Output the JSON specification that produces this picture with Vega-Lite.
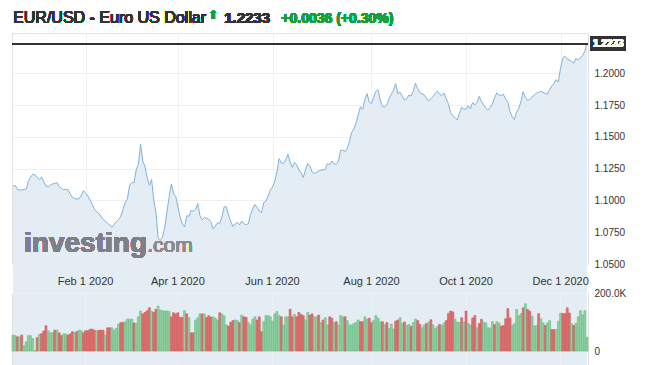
{
  "$schema": "https://vega.github.io/schema/vega-lite/v6.json",
  "padding": {"left": 10, "top": 8, "right": 5, "bottom": 0},
  "background": "white",
  "config": {
    "font": "Liberation Sans",
    "view": {"stroke": "#e2e2e2"},
    "axis": {"labelFont": "Liberation Sans", "labelColor": "#333333", "gridColor": "#f0f0f0", "ticks": false, "domain": false, "title": null, "labelFlush": false, "labelOverlap": false}
  },
  "data": {"values": [
    {"d":"2019-12-17","c":1.1114,"v":55000,"u":"up"},
    {"d":"2019-12-18","c":1.1118,"v":53000,"u":"up"},
    {"d":"2019-12-19","c":1.1085,"v":49000,"u":"down"},
    {"d":"2019-12-20","c":1.1082,"v":49000,"u":"up"},
    {"d":"2019-12-23","c":1.1083,"v":55000,"u":"down"},
    {"d":"2019-12-24","c":1.1086,"v":18000,"u":"up"},
    {"d":"2019-12-26","c":1.1090,"v":32000,"u":"up"},
    {"d":"2019-12-27","c":1.1155,"v":53000,"u":"up"},
    {"d":"2019-12-30","c":1.1185,"v":53000,"u":"up"},
    {"d":"2019-12-31","c":1.1206,"v":43000,"u":"up"},
    {"d":"2020-01-01","c":1.1200,"v":0,"u":"up"},
    {"d":"2020-01-02","c":1.1180,"v":46000,"u":"down"},
    {"d":"2020-01-03","c":1.1165,"v":57000,"u":"up"},
    {"d":"2020-01-06","c":1.1183,"v":60000,"u":"down"},
    {"d":"2020-01-07","c":1.1145,"v":69000,"u":"down"},
    {"d":"2020-01-08","c":1.1112,"v":87000,"u":"down"},
    {"d":"2020-01-09","c":1.1108,"v":69000,"u":"up"},
    {"d":"2020-01-10","c":1.1122,"v":63000,"u":"up"},
    {"d":"2020-01-13","c":1.1130,"v":63000,"u":"up"},
    {"d":"2020-01-14","c":1.1134,"v":72000,"u":"down"},
    {"d":"2020-01-15","c":1.1140,"v":72000,"u":"up"},
    {"d":"2020-01-16","c":1.1110,"v":63000,"u":"down"},
    {"d":"2020-01-17","c":1.1095,"v":53000,"u":"down"},
    {"d":"2020-01-20","c":1.1085,"v":59000,"u":"up"},
    {"d":"2020-01-21","c":1.1088,"v":59000,"u":"up"},
    {"d":"2020-01-22","c":1.1084,"v":55000,"u":"down"},
    {"d":"2020-01-23","c":1.1050,"v":59000,"u":"down"},
    {"d":"2020-01-24","c":1.1025,"v":67000,"u":"down"},
    {"d":"2020-01-27","c":1.1016,"v":64000,"u":"up"},
    {"d":"2020-01-28","c":1.1010,"v":67000,"u":"down"},
    {"d":"2020-01-29","c":1.1013,"v":72000,"u":"up"},
    {"d":"2020-01-30","c":1.1040,"v":70000,"u":"up"},
    {"d":"2020-01-31","c":1.1078,"v":63000,"u":"down"},
    {"d":"2020-02-03","c":1.1055,"v":70000,"u":"down"},
    {"d":"2020-02-04","c":1.1035,"v":70000,"u":"down"},
    {"d":"2020-02-05","c":1.1003,"v":75000,"u":"down"},
    {"d":"2020-02-06","c":1.0970,"v":76000,"u":"down"},
    {"d":"2020-02-07","c":1.0930,"v":72000,"u":"down"},
    {"d":"2020-02-10","c":1.0912,"v":70000,"u":"up"},
    {"d":"2020-02-11","c":1.0895,"v":72000,"u":"down"},
    {"d":"2020-02-12","c":1.0875,"v":72000,"u":"down"},
    {"d":"2020-02-13","c":1.0850,"v":72000,"u":"down"},
    {"d":"2020-02-14","c":1.0835,"v":55000,"u":"up"},
    {"d":"2020-02-17","c":1.0820,"v":80000,"u":"down"},
    {"d":"2020-02-18","c":1.0806,"v":80000,"u":"down"},
    {"d":"2020-02-19","c":1.0790,"v":80000,"u":"up"},
    {"d":"2020-02-20","c":1.0812,"v":72000,"u":"up"},
    {"d":"2020-02-21","c":1.0835,"v":78000,"u":"up"},
    {"d":"2020-02-24","c":1.0850,"v":93000,"u":"up"},
    {"d":"2020-02-25","c":1.0875,"v":98000,"u":"down"},
    {"d":"2020-02-26","c":1.0930,"v":98000,"u":"down"},
    {"d":"2020-02-27","c":1.0985,"v":101000,"u":"up"},
    {"d":"2020-02-28","c":1.1012,"v":110000,"u":"up"},
    {"d":"2020-03-02","c":1.1120,"v":110000,"u":"up"},
    {"d":"2020-03-03","c":1.1140,"v":110000,"u":"up"},
    {"d":"2020-03-04","c":1.1140,"v":97000,"u":"down"},
    {"d":"2020-03-05","c":1.1240,"v":95000,"u":"up"},
    {"d":"2020-03-06","c":1.1288,"v":118000,"u":"up"},
    {"d":"2020-03-09","c":1.1442,"v":138000,"u":"up"},
    {"d":"2020-03-10","c":1.1310,"v":128000,"u":"down"},
    {"d":"2020-03-11","c":1.1265,"v":133000,"u":"down"},
    {"d":"2020-03-12","c":1.1180,"v":139000,"u":"down"},
    {"d":"2020-03-13","c":1.1120,"v":149000,"u":"down"},
    {"d":"2020-03-16","c":1.1165,"v":138000,"u":"up"},
    {"d":"2020-03-17","c":1.1000,"v":133000,"u":"down"},
    {"d":"2020-03-18","c":1.0905,"v":144000,"u":"down"},
    {"d":"2020-03-19","c":1.0700,"v":155000,"u":"up"},
    {"d":"2020-03-20","c":1.0686,"v":141000,"u":"up"},
    {"d":"2020-03-23","c":1.0715,"v":139000,"u":"up"},
    {"d":"2020-03-24","c":1.0790,"v":138000,"u":"up"},
    {"d":"2020-03-25","c":1.0910,"v":138000,"u":"up"},
    {"d":"2020-03-26","c":1.1030,"v":136000,"u":"up"},
    {"d":"2020-03-27","c":1.1130,"v":118000,"u":"down"},
    {"d":"2020-03-30","c":1.1054,"v":132000,"u":"down"},
    {"d":"2020-03-31","c":1.1030,"v":128000,"u":"down"},
    {"d":"2020-04-01","c":1.0945,"v":132000,"u":"down"},
    {"d":"2020-04-02","c":1.0870,"v":116000,"u":"down"},
    {"d":"2020-04-03","c":1.0815,"v":116000,"u":"down"},
    {"d":"2020-04-06","c":1.0793,"v":139000,"u":"up"},
    {"d":"2020-04-07","c":1.0880,"v":128000,"u":"down"},
    {"d":"2020-04-08","c":1.0875,"v":115000,"u":"up"},
    {"d":"2020-04-09","c":1.0923,"v":63000,"u":"down"},
    {"d":"2020-04-10","c":1.0915,"v":63000,"u":"down"},
    {"d":"2020-04-13","c":1.0930,"v":107000,"u":"up"},
    {"d":"2020-04-14","c":1.0975,"v":115000,"u":"up"},
    {"d":"2020-04-15","c":1.0880,"v":128000,"u":"up"},
    {"d":"2020-04-16","c":1.0848,"v":128000,"u":"down"},
    {"d":"2020-04-17","c":1.0865,"v":128000,"u":"up"},
    {"d":"2020-04-20","c":1.0860,"v":115000,"u":"down"},
    {"d":"2020-04-21","c":1.0852,"v":122000,"u":"down"},
    {"d":"2020-04-22","c":1.0830,"v":117000,"u":"down"},
    {"d":"2020-04-23","c":1.0775,"v":118000,"u":"up"},
    {"d":"2020-04-24","c":1.0800,"v":113000,"u":"up"},
    {"d":"2020-04-27","c":1.0824,"v":107000,"u":"up"},
    {"d":"2020-04-28","c":1.0820,"v":132000,"u":"down"},
    {"d":"2020-04-29","c":1.0870,"v":128000,"u":"up"},
    {"d":"2020-04-30","c":1.0950,"v":121000,"u":"up"},
    {"d":"2020-05-01","c":1.0950,"v":90000,"u":"up"},
    {"d":"2020-05-04","c":1.0884,"v":86000,"u":"down"},
    {"d":"2020-05-05","c":1.0835,"v":99000,"u":"down"},
    {"d":"2020-05-06","c":1.0795,"v":105000,"u":"down"},
    {"d":"2020-05-07","c":1.0815,"v":107000,"u":"up"},
    {"d":"2020-05-08","c":1.0828,"v":105000,"u":"up"},
    {"d":"2020-05-11","c":1.0808,"v":98000,"u":"down"},
    {"d":"2020-05-12","c":1.0838,"v":124000,"u":"up"},
    {"d":"2020-05-13","c":1.0818,"v":118000,"u":"down"},
    {"d":"2020-05-14","c":1.0808,"v":116000,"u":"down"},
    {"d":"2020-05-15","c":1.0818,"v":98000,"u":"up"},
    {"d":"2020-05-18","c":1.0890,"v":90000,"u":"up"},
    {"d":"2020-05-19","c":1.0935,"v":110000,"u":"up"},
    {"d":"2020-05-20","c":1.0968,"v":118000,"u":"up"},
    {"d":"2020-05-21","c":1.0945,"v":107000,"u":"down"},
    {"d":"2020-05-22","c":1.0915,"v":118000,"u":"down"},
    {"d":"2020-05-25","c":1.0905,"v":67000,"u":"down"},
    {"d":"2020-05-26","c":1.0982,"v":101000,"u":"up"},
    {"d":"2020-05-27","c":1.0995,"v":122000,"u":"up"},
    {"d":"2020-05-28","c":1.1035,"v":122000,"u":"up"},
    {"d":"2020-05-29","c":1.1082,"v":118000,"u":"up"},
    {"d":"2020-06-01","c":1.1105,"v":103000,"u":"up"},
    {"d":"2020-06-02","c":1.1150,"v":128000,"u":"up"},
    {"d":"2020-06-03","c":1.1225,"v":136000,"u":"up"},
    {"d":"2020-06-04","c":1.1329,"v":122000,"u":"up"},
    {"d":"2020-06-05","c":1.1295,"v":118000,"u":"down"},
    {"d":"2020-06-08","c":1.1292,"v":90000,"u":"up"},
    {"d":"2020-06-09","c":1.1320,"v":118000,"u":"up"},
    {"d":"2020-06-10","c":1.1363,"v":118000,"u":"up"},
    {"d":"2020-06-11","c":1.1303,"v":144000,"u":"down"},
    {"d":"2020-06-12","c":1.1260,"v":118000,"u":"down"},
    {"d":"2020-06-15","c":1.1300,"v":126000,"u":"up"},
    {"d":"2020-06-16","c":1.1280,"v":118000,"u":"down"},
    {"d":"2020-06-17","c":1.1240,"v":133000,"u":"down"},
    {"d":"2020-06-18","c":1.1217,"v":126000,"u":"down"},
    {"d":"2020-06-19","c":1.1180,"v":122000,"u":"down"},
    {"d":"2020-06-22","c":1.1240,"v":107000,"u":"up"},
    {"d":"2020-06-23","c":1.1290,"v":133000,"u":"up"},
    {"d":"2020-06-24","c":1.1270,"v":124000,"u":"down"},
    {"d":"2020-06-25","c":1.1225,"v":128000,"u":"down"},
    {"d":"2020-06-26","c":1.1212,"v":118000,"u":"up"},
    {"d":"2020-06-29","c":1.1222,"v":118000,"u":"up"},
    {"d":"2020-06-30","c":1.1232,"v":124000,"u":"down"},
    {"d":"2020-07-01","c":1.1238,"v":98000,"u":"up"},
    {"d":"2020-07-02","c":1.1240,"v":107000,"u":"down"},
    {"d":"2020-07-03","c":1.1245,"v":115000,"u":"up"},
    {"d":"2020-07-06","c":1.1290,"v":90000,"u":"up"},
    {"d":"2020-07-07","c":1.1280,"v":118000,"u":"down"},
    {"d":"2020-07-08","c":1.1310,"v":113000,"u":"down"},
    {"d":"2020-07-09","c":1.1290,"v":98000,"u":"up"},
    {"d":"2020-07-10","c":1.1285,"v":101000,"u":"down"},
    {"d":"2020-07-13","c":1.1310,"v":90000,"u":"up"},
    {"d":"2020-07-14","c":1.1395,"v":122000,"u":"up"},
    {"d":"2020-07-15","c":1.1395,"v":118000,"u":"up"},
    {"d":"2020-07-16","c":1.1385,"v":118000,"u":"down"},
    {"d":"2020-07-17","c":1.1410,"v":105000,"u":"up"},
    {"d":"2020-07-20","c":1.1465,"v":90000,"u":"up"},
    {"d":"2020-07-21","c":1.1535,"v":90000,"u":"up"},
    {"d":"2020-07-22","c":1.1565,"v":95000,"u":"up"},
    {"d":"2020-07-23","c":1.1610,"v":99000,"u":"up"},
    {"d":"2020-07-24","c":1.1675,"v":107000,"u":"up"},
    {"d":"2020-07-27","c":1.1737,"v":101000,"u":"down"},
    {"d":"2020-07-28","c":1.1716,"v":101000,"u":"down"},
    {"d":"2020-07-29","c":1.1795,"v":118000,"u":"up"},
    {"d":"2020-07-30","c":1.1840,"v":110000,"u":"up"},
    {"d":"2020-07-31","c":1.1775,"v":113000,"u":"down"},
    {"d":"2020-08-03","c":1.1762,"v":98000,"u":"down"},
    {"d":"2020-08-04","c":1.1810,"v":105000,"u":"up"},
    {"d":"2020-08-05","c":1.1858,"v":122000,"u":"up"},
    {"d":"2020-08-06","c":1.1870,"v":113000,"u":"up"},
    {"d":"2020-08-07","c":1.1790,"v":101000,"u":"up"},
    {"d":"2020-08-10","c":1.1740,"v":101000,"u":"down"},
    {"d":"2020-08-11","c":1.1735,"v":90000,"u":"up"},
    {"d":"2020-08-12","c":1.1750,"v":98000,"u":"down"},
    {"d":"2020-08-13","c":1.1800,"v":78000,"u":"up"},
    {"d":"2020-08-14","c":1.1835,"v":93000,"u":"up"},
    {"d":"2020-08-17","c":1.1866,"v":76000,"u":"up"},
    {"d":"2020-08-18","c":1.1920,"v":103000,"u":"down"},
    {"d":"2020-08-19","c":1.1840,"v":107000,"u":"down"},
    {"d":"2020-08-20","c":1.1850,"v":115000,"u":"up"},
    {"d":"2020-08-21","c":1.1820,"v":95000,"u":"up"},
    {"d":"2020-08-24","c":1.1790,"v":100000,"u":"down"},
    {"d":"2020-08-25","c":1.1800,"v":88000,"u":"up"},
    {"d":"2020-08-26","c":1.1827,"v":92000,"u":"up"},
    {"d":"2020-08-27","c":1.1822,"v":85000,"u":"down"},
    {"d":"2020-08-28","c":1.1858,"v":98000,"u":"up"},
    {"d":"2020-08-31","c":1.1922,"v":110000,"u":"up"},
    {"d":"2020-09-01","c":1.1880,"v":105000,"u":"down"},
    {"d":"2020-09-02","c":1.1850,"v":92000,"u":"down"},
    {"d":"2020-09-03","c":1.1838,"v":80000,"u":"up"},
    {"d":"2020-09-04","c":1.1830,"v":90000,"u":"up"},
    {"d":"2020-09-07","c":1.1805,"v":95000,"u":"down"},
    {"d":"2020-09-08","c":1.1782,"v":100000,"u":"up"},
    {"d":"2020-09-09","c":1.1800,"v":108000,"u":"down"},
    {"d":"2020-09-10","c":1.1818,"v":90000,"u":"up"},
    {"d":"2020-09-11","c":1.1840,"v":78000,"u":"up"},
    {"d":"2020-09-14","c":1.1860,"v":85000,"u":"up"},
    {"d":"2020-09-15","c":1.1835,"v":92000,"u":"down"},
    {"d":"2020-09-16","c":1.1825,"v":88000,"u":"up"},
    {"d":"2020-09-17","c":1.1845,"v":97000,"u":"up"},
    {"d":"2020-09-18","c":1.1800,"v":105000,"u":"down"},
    {"d":"2020-09-21","c":1.1762,"v":130000,"u":"down"},
    {"d":"2020-09-22","c":1.1690,"v":138000,"u":"down"},
    {"d":"2020-09-23","c":1.1665,"v":135000,"u":"down"},
    {"d":"2020-09-24","c":1.1652,"v":110000,"u":"up"},
    {"d":"2020-09-25","c":1.1632,"v":100000,"u":"up"},
    {"d":"2020-09-28","c":1.1685,"v":98000,"u":"up"},
    {"d":"2020-09-29","c":1.1733,"v":115000,"u":"down"},
    {"d":"2020-09-30","c":1.1720,"v":100000,"u":"up"},
    {"d":"2020-10-01","c":1.1718,"v":138000,"u":"down"},
    {"d":"2020-10-02","c":1.1745,"v":95000,"u":"up"},
    {"d":"2020-10-05","c":1.1720,"v":90000,"u":"up"},
    {"d":"2020-10-06","c":1.1770,"v":114000,"u":"down"},
    {"d":"2020-10-07","c":1.1752,"v":122000,"u":"down"},
    {"d":"2020-10-08","c":1.1770,"v":80000,"u":"up"},
    {"d":"2020-10-09","c":1.1818,"v":95000,"u":"down"},
    {"d":"2020-10-12","c":1.1780,"v":109000,"u":"down"},
    {"d":"2020-10-13","c":1.1752,"v":99000,"u":"up"},
    {"d":"2020-10-14","c":1.1725,"v":97000,"u":"up"},
    {"d":"2020-10-15","c":1.1710,"v":80000,"u":"up"},
    {"d":"2020-10-16","c":1.1730,"v":80000,"u":"up"},
    {"d":"2020-10-19","c":1.1760,"v":101000,"u":"up"},
    {"d":"2020-10-20","c":1.1808,"v":91000,"u":"down"},
    {"d":"2020-10-21","c":1.1845,"v":101000,"u":"up"},
    {"d":"2020-10-22","c":1.1830,"v":97000,"u":"up"},
    {"d":"2020-10-23","c":1.1825,"v":86000,"u":"down"},
    {"d":"2020-10-26","c":1.1835,"v":88000,"u":"down"},
    {"d":"2020-10-27","c":1.1798,"v":111000,"u":"down"},
    {"d":"2020-10-28","c":1.1775,"v":146000,"u":"down"},
    {"d":"2020-10-29","c":1.1700,"v":114000,"u":"down"},
    {"d":"2020-10-30","c":1.1660,"v":89000,"u":"up"},
    {"d":"2020-11-02","c":1.1636,"v":94000,"u":"up"},
    {"d":"2020-11-03","c":1.1694,"v":143000,"u":"up"},
    {"d":"2020-11-04","c":1.1722,"v":122000,"u":"up"},
    {"d":"2020-11-05","c":1.1780,"v":129000,"u":"up"},
    {"d":"2020-11-06","c":1.1855,"v":149000,"u":"down"},
    {"d":"2020-11-09","c":1.1810,"v":163000,"u":"up"},
    {"d":"2020-11-10","c":1.1788,"v":143000,"u":"down"},
    {"d":"2020-11-11","c":1.1795,"v":137000,"u":"down"},
    {"d":"2020-11-12","c":1.1812,"v":120000,"u":"up"},
    {"d":"2020-11-13","c":1.1828,"v":86000,"u":"up"},
    {"d":"2020-11-16","c":1.1843,"v":88000,"u":"up"},
    {"d":"2020-11-17","c":1.1852,"v":129000,"u":"down"},
    {"d":"2020-11-18","c":1.1859,"v":111000,"u":"up"},
    {"d":"2020-11-19","c":1.1850,"v":97000,"u":"up"},
    {"d":"2020-11-20","c":1.1843,"v":88000,"u":"down"},
    {"d":"2020-11-23","c":1.1836,"v":97000,"u":"up"},
    {"d":"2020-11-24","c":1.1870,"v":105000,"u":"up"},
    {"d":"2020-11-25","c":1.1900,"v":74000,"u":"down"},
    {"d":"2020-11-26","c":1.1920,"v":74000,"u":"down"},
    {"d":"2020-11-27","c":1.1950,"v":74000,"u":"up"},
    {"d":"2020-11-30","c":1.1932,"v":103000,"u":"up"},
    {"d":"2020-12-01","c":1.2040,"v":131000,"u":"up"},
    {"d":"2020-12-02","c":1.2118,"v":129000,"u":"down"},
    {"d":"2020-12-03","c":1.2134,"v":129000,"u":"down"},
    {"d":"2020-12-04","c":1.2115,"v":149000,"u":"down"},
    {"d":"2020-12-07","c":1.2104,"v":131000,"u":"down"},
    {"d":"2020-12-08","c":1.2094,"v":94000,"u":"up"},
    {"d":"2020-12-09","c":1.2080,"v":88000,"u":"down"},
    {"d":"2020-12-10","c":1.2115,"v":95000,"u":"up"},
    {"d":"2020-12-11","c":1.2105,"v":118000,"u":"up"},
    {"d":"2020-12-14","c":1.2120,"v":139000,"u":"up"},
    {"d":"2020-12-15","c":1.2140,"v":125000,"u":"up"},
    {"d":"2020-12-16","c":1.2170,"v":139000,"u":"up"},
    {"d":"2020-12-17","c":1.2233,"v":48000,"u":"up"}
  ]},
  "spacing": 29,
  "bounds": "flush",
  "vconcat": [
    {
      "width": 576,
      "height": 231,
      "layer": [
        {
          "mark": {"type": "area", "color": "#e4edf4"},
          "encoding": {
            "x": {"field": "d", "type": "ordinal", "scale": {"type": "point", "padding": 0.5}, "axis": {"orient": "bottom", "values": ["2020-02-03","2020-04-01","2020-06-01","2020-08-03","2020-10-01","2020-12-01"], "labels": false, "grid": true}},
            "y": {"field": "c", "type": "quantitative", "scale": {"domain": [1.05, 1.2317], "nice": false, "zero": false}, "axis": {"orient": "right", "values": [1.05, 1.075, 1.1, 1.125, 1.15, 1.175, 1.2], "format": ".4f", "labelPadding": 6, "labelFontSize": 10, "grid": true}}
          }
        },
        {
          "mark": {"type": "text", "align": "left", "baseline": "alphabetic", "fontSize": 28, "fontWeight": "bold", "color": "#7d8187"},
          "encoding": {
            "x": {"datum": "2019-12-24", "type": "ordinal", "scale": {"type": "point", "padding": 0.5}, "axis": {"orient": "bottom", "values": ["2020-02-03","2020-04-01","2020-06-01","2020-08-03","2020-10-01","2020-12-01"], "labels": false, "grid": true}},
            "y": {"datum": 1.0595, "type": "quantitative", "scale": {"domain": [1.05, 1.2317], "nice": false, "zero": false}, "axis": {"orient": "right", "values": [1.05, 1.075, 1.1, 1.125, 1.15, 1.175, 1.2], "format": ".4f", "labelPadding": 6, "labelFontSize": 10, "grid": true}},
            "text": {"value": "investing"}
          }
        },
        {
          "mark": {"type": "text", "align": "left", "baseline": "alphabetic", "fontSize": 21, "color": "#8a8d92"},
          "encoding": {
            "x": {"datum": "2020-03-12", "type": "ordinal", "scale": {"type": "point", "padding": 0.5}, "axis": {"orient": "bottom", "values": ["2020-02-03","2020-04-01","2020-06-01","2020-08-03","2020-10-01","2020-12-01"], "labels": false, "grid": true}},
            "y": {"datum": 1.0595, "type": "quantitative", "scale": {"domain": [1.05, 1.2317], "nice": false, "zero": false}, "axis": {"orient": "right", "values": [1.05, 1.075, 1.1, 1.125, 1.15, 1.175, 1.2], "format": ".4f", "labelPadding": 6, "labelFontSize": 10, "grid": true}},
            "text": {"value": ".com"}
          }
        },
        {
          "mark": {"type": "line", "color": "#7fb2dd", "strokeWidth": 1},
          "encoding": {
            "x": {"field": "d", "type": "ordinal", "scale": {"type": "point", "padding": 0.5}, "axis": {"orient": "bottom", "values": ["2020-02-03","2020-04-01","2020-06-01","2020-08-03","2020-10-01","2020-12-01"], "labels": false, "grid": true}},
            "y": {"field": "c", "type": "quantitative", "scale": {"domain": [1.05, 1.2317], "nice": false, "zero": false}, "axis": {"orient": "right", "values": [1.05, 1.075, 1.1, 1.125, 1.15, 1.175, 1.2], "format": ".4f", "labelPadding": 6, "labelFontSize": 10, "grid": true}}
          }
        },
        {
          "mark": {"type": "rule", "color": "#333333", "strokeWidth": 1},
          "encoding": {
            "y": {"datum": 1.2233, "type": "quantitative", "scale": {"domain": [1.05, 1.2317], "nice": false, "zero": false}, "axis": {"orient": "right", "values": [1.05, 1.075, 1.1, 1.125, 1.15, 1.175, 1.2], "format": ".4f", "labelPadding": 6, "labelFontSize": 10, "grid": true}}
          }
        },
        {
          "mark": {"type": "rect", "fill": "#333333", "opacity": 1, "xOffset": 2, "x2Offset": 38, "yOffset": -7, "y2Offset": 7},
          "encoding": {
            "x": {"value": "width"},
            "x2": {"value": "width"},
            "y": {"datum": 1.2233, "type": "quantitative", "scale": {"domain": [1.05, 1.2317], "nice": false, "zero": false}, "axis": {"orient": "right", "values": [1.05, 1.075, 1.1, 1.125, 1.15, 1.175, 1.2], "format": ".4f", "labelPadding": 6, "labelFontSize": 10, "grid": true}},
            "y2": {"datum": 1.2233}
          }
        },
        {
          "mark": {"type": "text", "align": "left", "baseline": "middle", "dx": 5, "fontSize": 10, "fontWeight": "bold", "fill": "#ffffff"},
          "encoding": {
            "x": {"value": "width"},
            "y": {"datum": 1.2233, "type": "quantitative", "scale": {"domain": [1.05, 1.2317], "nice": false, "zero": false}, "axis": {"orient": "right", "values": [1.05, 1.075, 1.1, 1.125, 1.15, 1.175, 1.2], "format": ".4f", "labelPadding": 6, "labelFontSize": 10, "grid": true}},
            "text": {"value": "1.2233"}
          }
        },
        {
          "mark": {"type": "text", "align": "left", "baseline": "alphabetic", "fontSize": 16, "color": "#333333"},
          "encoding": {
            "x": {"datum": "2019-12-17", "type": "ordinal", "scale": {"type": "point", "padding": 0.5}, "axis": {"orient": "bottom", "values": ["2020-02-03","2020-04-01","2020-06-01","2020-08-03","2020-10-01","2020-12-01"], "labels": false, "grid": true}},
            "y": {"datum": 1.2397, "type": "quantitative", "scale": {"domain": [1.05, 1.2317], "nice": false, "zero": false}, "axis": {"orient": "right", "values": [1.05, 1.075, 1.1, 1.125, 1.15, 1.175, 1.2], "format": ".4f", "labelPadding": 6, "labelFontSize": 10, "grid": true}},
            "text": {"value": "EUR/USD - Euro US Dollar"}
          }
        },
        {
          "mark": {"type": "text", "align": "center", "baseline": "alphabetic", "fontSize": 12, "color": "#1a9e3a"},
          "encoding": {
            "x": {"datum": "2020-04-23", "type": "ordinal", "scale": {"type": "point", "padding": 0.5}, "axis": {"orient": "bottom", "values": ["2020-02-03","2020-04-01","2020-06-01","2020-08-03","2020-10-01","2020-12-01"], "labels": false, "grid": true}},
            "y": {"datum": 1.2430, "type": "quantitative", "scale": {"domain": [1.05, 1.2317], "nice": false, "zero": false}, "axis": {"orient": "right", "values": [1.05, 1.075, 1.1, 1.125, 1.15, 1.175, 1.2], "format": ".4f", "labelPadding": 6, "labelFontSize": 10, "grid": true}},
            "text": {"value": "⬆"}
          }
        },
        {
          "mark": {"type": "text", "align": "left", "baseline": "alphabetic", "fontSize": 15, "fontWeight": "bold", "color": "#333333"},
          "encoding": {
            "x": {"datum": "2020-04-30", "type": "ordinal", "scale": {"type": "point", "padding": 0.5}, "axis": {"orient": "bottom", "values": ["2020-02-03","2020-04-01","2020-06-01","2020-08-03","2020-10-01","2020-12-01"], "labels": false, "grid": true}},
            "y": {"datum": 1.2397, "type": "quantitative", "scale": {"domain": [1.05, 1.2317], "nice": false, "zero": false}, "axis": {"orient": "right", "values": [1.05, 1.075, 1.1, 1.125, 1.15, 1.175, 1.2], "format": ".4f", "labelPadding": 6, "labelFontSize": 10, "grid": true}},
            "text": {"value": "1.2233"}
          }
        },
        {
          "mark": {"type": "text", "align": "left", "baseline": "alphabetic", "fontSize": 14, "fontWeight": "bold", "color": "#1a9e3a"},
          "encoding": {
            "x": {"datum": "2020-06-05", "type": "ordinal", "scale": {"type": "point", "padding": 0.5}, "axis": {"orient": "bottom", "values": ["2020-02-03","2020-04-01","2020-06-01","2020-08-03","2020-10-01","2020-12-01"], "labels": false, "grid": true}},
            "y": {"datum": 1.2397, "type": "quantitative", "scale": {"domain": [1.05, 1.2317], "nice": false, "zero": false}, "axis": {"orient": "right", "values": [1.05, 1.075, 1.1, 1.125, 1.15, 1.175, 1.2], "format": ".4f", "labelPadding": 6, "labelFontSize": 10, "grid": true}},
            "text": {"value": "+0.0036  (+0.30%)"}
          }
        }
      ]
    },
    {
      "width": 576,
      "height": 72,
      "mark": {"type": "bar", "strokeWidth": 0.6},
      "encoding": {
        "x": {"field": "d", "type": "ordinal", "scale": {"type": "band", "paddingInner": 0.12, "paddingOuter": 0}, "axis": {"orient": "top", "values": ["2020-02-03","2020-04-01","2020-06-01","2020-08-03","2020-10-01","2020-12-01"], "labelExpr": "datum.value == '2020-02-03' ? 'Feb 1 2020' : datum.value == '2020-04-01' ? 'Apr 1 2020' : datum.value == '2020-06-01' ? 'Jun 1 2020' : datum.value == '2020-08-03' ? 'Aug 1 2020' : datum.value == '2020-10-01' ? 'Oct 1 2020' : 'Dec 1 2020'", "labelAngle": 0, "labelPadding": 7, "labelFontSize": 11, "labelAlign": "center", "grid": true}},
        "y": {"field": "v", "type": "quantitative", "scale": {"domain": [-48000, 200000], "nice": false}, "axis": {"orient": "right", "values": [0, 200000], "labelExpr": "datum.value == 0 ? '0' : format(datum.value / 1000, '.1f') + 'K'", "labelPadding": 6, "labelFontSize": 10, "grid": true}},
        "fill": {"field": "u", "type": "nominal", "scale": {"domain": ["up", "down"], "range": ["#93d1a4", "#e07070"]}, "legend": null},
        "stroke": {"field": "u", "type": "nominal", "scale": {"domain": ["up", "down"], "range": ["#66bb82", "#cf5555"]}, "legend": null}
      }
    }
  ]
}
